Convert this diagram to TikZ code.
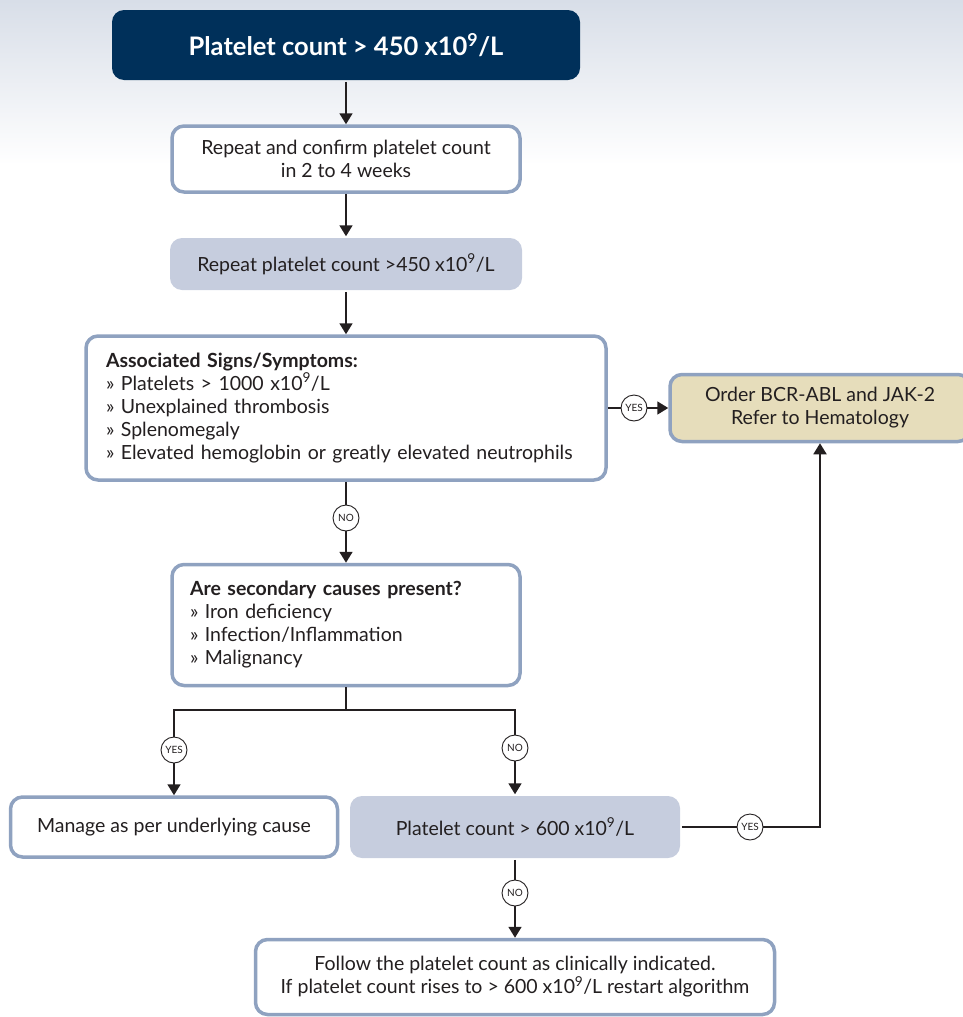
\documentclass[tikz,border=0pt]{standalone}
\usepackage{fontspec}
\setmainfont{Lato}
\usetikzlibrary{arrows.meta, positioning}

\definecolor{navy}{HTML}{00305A}
\definecolor{edge}{HTML}{8FA2C0}
\definecolor{pale}{HTML}{C6CDDE}
\definecolor{sand}{HTML}{E6DDBB}
\definecolor{ink}{HTML}{231F20}
\definecolor{haze}{HTML}{D8DEE8}

\begin{document}
\begin{tikzpicture}[x=1pt, y=-1pt,
        box/.style={draw=edge, line width=3.5pt, rounded corners=12pt, fill=white,
            text=ink, align=center, font=\fontsize{19.5}{23}\selectfont},
        shadebox/.style={box, draw=none, fill=pale},
        answer/.style={circle, draw=ink, line width=0.9pt, fill=white, text=ink,
            inner sep=0pt, minimum size=26pt, font=\fontsize{10}{10}\selectfont},
        link/.style={draw=ink, line width=1.8pt, -{Triangle[width=13pt, length=11pt]}},
        wire/.style={draw=ink, line width=1.8pt}]
    \useasboundingbox (0, 0) rectangle (963, 1017);
    \fill [top color=haze, bottom color=white] (0, 0) rectangle (963, 165);

    \node [box, draw=none, fill=navy, text=white, minimum width=468pt, minimum height=70pt,
        font=\fontsize{25.5}{28}\selectfont\bfseries] (top) at (346, 45)
        {Platelet count > 450 x10\textsuperscript{9}/L};
    \node [box, minimum width=348pt, minimum height=66pt] (confirm) at (346, 159)
        {Repeat and confirm platelet count\\in 2 to 4 weeks};
    \node [shadebox, minimum width=352pt, minimum height=52pt] (again) at (346, 264)
        {Repeat platelet count >450 x10\textsuperscript{9}/L};
    \node [box, minimum width=520pt, minimum height=144pt, text width=480pt, align=left] (signs) at (346, 408)
        {\textbf{Associated Signs/Symptoms:}\\
         » Platelets > 1000 x10\textsuperscript{9}/L\\
         » Unexplained thrombosis\\
         » Splenomegaly\\
         » Elevated hemoglobin or greatly elevated neutrophils};
    \node [box, fill=sand, minimum width=300pt, minimum height=67pt] (order) at (820, 408)
        {Order BCR-ABL and JAK-2\\Refer to Hematology};
    \node [box, minimum width=348pt, minimum height=121pt, text width=312pt, align=left] (secondary) at (346, 625)
        {\textbf{Are secondary causes present?}\\
         » Iron deficiency\\
         » Infection/Inflammation\\
         » Malignancy};
    \node [box, minimum width=327pt, minimum height=60pt] (manage) at (174, 827)
        {Manage as per underlying cause};
    \node [shadebox, minimum width=330pt, minimum height=62pt] (count600) at (515, 827)
        {Platelet count > 600 x10\textsuperscript{9}/L};
    \node [box, minimum width=519pt, minimum height=75pt] (follow) at (515, 977)
        {Follow the platelet count as clinically indicated.\\
         If platelet count rises to > 600 x10\textsuperscript{9}/L restart algorithm};

    \node [answer] (yes1) at (634, 408) {YES};
    \node [answer] (no1) at (346, 518) {NO};
    \node [answer] (yes2) at (174, 750) {YES};
    \node [answer] (no2) at (515, 748) {NO};
    \node [answer] (yes3) at (750, 827) {YES};
    \node [answer] (no3) at (515, 893) {NO};
    \coordinate (split) at (346, 710);

    \draw [link] (top) -- (confirm);
    \draw [link] (confirm) -- (again);
    \draw [link] (again) -- (signs);
    \draw [wire] (signs) -- (yes1);
    \draw [link] (yes1) -- (order);
    \draw [wire] (signs) -- (no1);
    \draw [link] (no1) -- (secondary);
    \draw [wire] (secondary) -- (split);
    \draw [wire] (split) -| (yes2);
    \draw [wire] (split) -| (no2);
    \draw [link] (yes2) -- (manage);
    \draw [link] (no2) -- (count600);
    \draw [wire] (count600) -- (yes3);
    \draw [link] (yes3) -| (order);
    \draw [wire] (count600) -- (no3);
    \draw [link] (no3) -- (follow);
\end{tikzpicture}
\end{document}
